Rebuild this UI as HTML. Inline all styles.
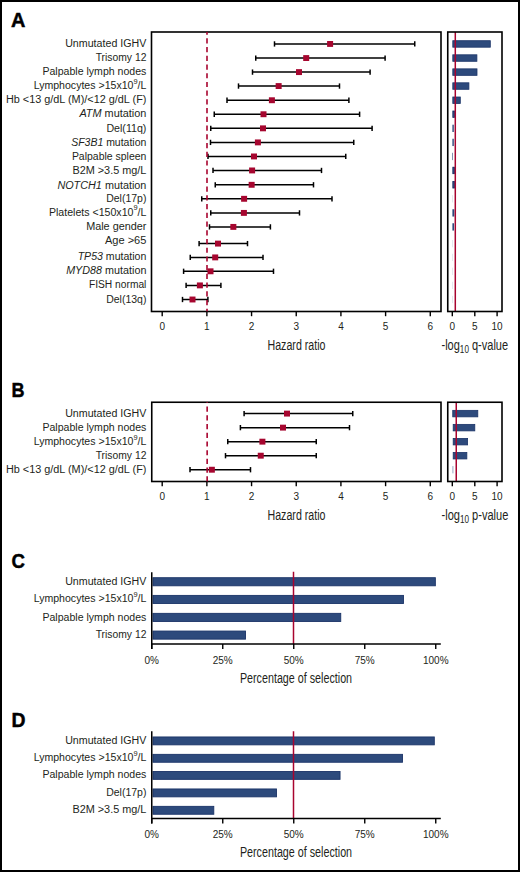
<!DOCTYPE html>
<html><head><meta charset="utf-8"><style>
html,body{margin:0;padding:0;background:#fff;}
svg{display:block;}
</style></head><body>
<svg width="520" height="872" viewBox="0 0 520 872" font-family="'Liberation Sans', sans-serif">
<rect x="0.00" y="0.00" width="520.00" height="872.00" fill="#fff" />
<rect x="1" y="1" width="518" height="870" fill="none" stroke="#000" stroke-width="2"/>
<text transform="translate(11.1,27.2) scale(1.03,1)" font-size="19.4" font-weight="bold" fill="#000" stroke="#000" stroke-width="0.45">A</text>
<text transform="translate(11.5,397.3) scale(0.93,1)" font-size="19.4" font-weight="bold" fill="#000" stroke="#000" stroke-width="0.45">B</text>
<text transform="translate(11.4,567.6) scale(0.96,1)" font-size="19.4" font-weight="bold" fill="#000" stroke="#000" stroke-width="0.45">C</text>
<text transform="translate(11.6,726.5) scale(1.0,1)" font-size="19.4" font-weight="bold" fill="#000" stroke="#000" stroke-width="0.45">D</text>
<text x="65.15" y="46.75" font-size="10.0" textLength="81.25" lengthAdjust="spacingAndGlyphs" fill="#231f20">Unmutated IGHV</text>
<text x="95.65" y="60.85" font-size="10.0" textLength="50.75" lengthAdjust="spacingAndGlyphs" fill="#231f20">Trisomy 12</text>
<text x="42.40" y="74.90" font-size="10.0" textLength="104.00" lengthAdjust="spacingAndGlyphs" fill="#231f20">Palpable lymph nodes</text>
<text x="33.65" y="88.85" font-size="10.0" textLength="112.75" lengthAdjust="spacingAndGlyphs" fill="#231f20">Lymphocytes &gt;15x10<tspan font-size="7.00" dy="-5.3">9</tspan><tspan dy="5.3">/L</tspan></text>
<text x="5.90" y="103.05" font-size="10.0" textLength="140.50" lengthAdjust="spacingAndGlyphs" fill="#231f20">Hb &lt;13 g/dL (M)/&lt;12 g/dL (F)</text>
<text x="79.40" y="117.05" font-size="10.0" textLength="67.00" lengthAdjust="spacingAndGlyphs" fill="#231f20"><tspan font-style="italic">ATM</tspan> mutation</text>
<text x="106.40" y="131.65" font-size="10.0" textLength="40.00" lengthAdjust="spacingAndGlyphs" fill="#231f20">Del(11q)</text>
<text x="71.15" y="145.70" font-size="10.0" textLength="75.25" lengthAdjust="spacingAndGlyphs" fill="#231f20"><tspan font-style="italic">SF3B1</tspan> mutation</text>
<text x="71.90" y="160.25" font-size="10.0" textLength="74.50" lengthAdjust="spacingAndGlyphs" fill="#231f20">Palpable spleen</text>
<text x="72.40" y="174.25" font-size="10.0" textLength="74.00" lengthAdjust="spacingAndGlyphs" fill="#231f20">B2M &gt;3.5 mg/L</text>
<text x="57.40" y="188.60" font-size="10.0" textLength="89.00" lengthAdjust="spacingAndGlyphs" fill="#231f20"><tspan font-style="italic">NOTCH1</tspan> mutation</text>
<text x="106.15" y="201.60" font-size="10.0" textLength="40.25" lengthAdjust="spacingAndGlyphs" fill="#231f20">Del(17p)</text>
<text x="48.90" y="215.70" font-size="10.0" textLength="97.50" lengthAdjust="spacingAndGlyphs" fill="#231f20">Platelets &lt;150x10<tspan font-size="7.00" dy="-5.3">9</tspan><tspan dy="5.3">/L</tspan></text>
<text x="86.15" y="229.70" font-size="10.0" textLength="60.25" lengthAdjust="spacingAndGlyphs" fill="#231f20">Male gender</text>
<text x="104.90" y="243.50" font-size="10.0" textLength="41.50" lengthAdjust="spacingAndGlyphs" fill="#231f20">Age &gt;65</text>
<text x="77.65" y="260.30" font-size="10.0" textLength="68.75" lengthAdjust="spacingAndGlyphs" fill="#231f20"><tspan font-style="italic">TP53</tspan> mutation</text>
<text x="66.15" y="274.30" font-size="10.0" textLength="80.25" lengthAdjust="spacingAndGlyphs" fill="#231f20"><tspan font-style="italic">MYD88</tspan> mutation</text>
<text x="88.90" y="288.40" font-size="10.0" textLength="57.50" lengthAdjust="spacingAndGlyphs" fill="#231f20">FISH normal</text>
<text x="106.15" y="302.50" font-size="10.0" textLength="40.25" lengthAdjust="spacingAndGlyphs" fill="#231f20">Del(13q)</text>
<line x1="274.50" y1="43.95" x2="414.75" y2="43.95" stroke="#000" stroke-width="1.5" />
<line x1="274.50" y1="41.30" x2="274.50" y2="46.60" stroke="#000" stroke-width="1.5" />
<line x1="414.75" y1="41.30" x2="414.75" y2="46.60" stroke="#000" stroke-width="1.5" />
<rect x="327.10" y="41.00" width="6.00" height="5.90" fill="#a6062f" />
<line x1="255.75" y1="58.05" x2="385.10" y2="58.05" stroke="#000" stroke-width="1.5" />
<line x1="255.75" y1="55.40" x2="255.75" y2="60.70" stroke="#000" stroke-width="1.5" />
<line x1="385.10" y1="55.40" x2="385.10" y2="60.70" stroke="#000" stroke-width="1.5" />
<rect x="303.20" y="55.10" width="6.00" height="5.90" fill="#a6062f" />
<line x1="252.50" y1="72.10" x2="370.10" y2="72.10" stroke="#000" stroke-width="1.5" />
<line x1="252.50" y1="69.45" x2="252.50" y2="74.75" stroke="#000" stroke-width="1.5" />
<line x1="370.10" y1="69.45" x2="370.10" y2="74.75" stroke="#000" stroke-width="1.5" />
<rect x="296.00" y="69.15" width="6.00" height="5.90" fill="#a6062f" />
<line x1="238.50" y1="86.05" x2="339.50" y2="86.05" stroke="#000" stroke-width="1.5" />
<line x1="238.50" y1="83.40" x2="238.50" y2="88.70" stroke="#000" stroke-width="1.5" />
<line x1="339.50" y1="83.40" x2="339.50" y2="88.70" stroke="#000" stroke-width="1.5" />
<rect x="275.65" y="83.10" width="6.00" height="5.90" fill="#a6062f" />
<line x1="227.00" y1="100.25" x2="348.90" y2="100.25" stroke="#000" stroke-width="1.5" />
<line x1="227.00" y1="97.60" x2="227.00" y2="102.90" stroke="#000" stroke-width="1.5" />
<line x1="348.90" y1="97.60" x2="348.90" y2="102.90" stroke="#000" stroke-width="1.5" />
<rect x="268.90" y="97.30" width="6.00" height="5.90" fill="#a6062f" />
<line x1="214.25" y1="114.25" x2="359.60" y2="114.25" stroke="#000" stroke-width="1.5" />
<line x1="214.25" y1="111.60" x2="214.25" y2="116.90" stroke="#000" stroke-width="1.5" />
<line x1="359.60" y1="111.60" x2="359.60" y2="116.90" stroke="#000" stroke-width="1.5" />
<rect x="260.50" y="111.30" width="6.00" height="5.90" fill="#a6062f" />
<line x1="210.75" y1="128.35" x2="372.10" y2="128.35" stroke="#000" stroke-width="1.5" />
<line x1="210.75" y1="125.70" x2="210.75" y2="131.00" stroke="#000" stroke-width="1.5" />
<line x1="372.10" y1="125.70" x2="372.10" y2="131.00" stroke="#000" stroke-width="1.5" />
<rect x="260.00" y="125.40" width="6.00" height="5.90" fill="#a6062f" />
<line x1="210.50" y1="142.40" x2="353.75" y2="142.40" stroke="#000" stroke-width="1.5" />
<line x1="210.50" y1="139.75" x2="210.50" y2="145.05" stroke="#000" stroke-width="1.5" />
<line x1="353.75" y1="139.75" x2="353.75" y2="145.05" stroke="#000" stroke-width="1.5" />
<rect x="254.90" y="139.45" width="6.00" height="5.90" fill="#a6062f" />
<line x1="208.00" y1="156.45" x2="345.75" y2="156.45" stroke="#000" stroke-width="1.5" />
<line x1="208.00" y1="153.80" x2="208.00" y2="159.10" stroke="#000" stroke-width="1.5" />
<line x1="345.75" y1="153.80" x2="345.75" y2="159.10" stroke="#000" stroke-width="1.5" />
<rect x="251.00" y="153.50" width="6.00" height="5.90" fill="#a6062f" />
<line x1="213.00" y1="170.45" x2="321.50" y2="170.45" stroke="#000" stroke-width="1.5" />
<line x1="213.00" y1="167.80" x2="213.00" y2="173.10" stroke="#000" stroke-width="1.5" />
<line x1="321.50" y1="167.80" x2="321.50" y2="173.10" stroke="#000" stroke-width="1.5" />
<rect x="249.10" y="167.50" width="6.00" height="5.90" fill="#a6062f" />
<line x1="215.25" y1="184.80" x2="313.50" y2="184.80" stroke="#000" stroke-width="1.5" />
<line x1="215.25" y1="182.15" x2="215.25" y2="187.45" stroke="#000" stroke-width="1.5" />
<line x1="313.50" y1="182.15" x2="313.50" y2="187.45" stroke="#000" stroke-width="1.5" />
<rect x="248.65" y="181.85" width="6.00" height="5.90" fill="#a6062f" />
<line x1="201.75" y1="198.80" x2="332.00" y2="198.80" stroke="#000" stroke-width="1.5" />
<line x1="201.75" y1="196.15" x2="201.75" y2="201.45" stroke="#000" stroke-width="1.5" />
<line x1="332.00" y1="196.15" x2="332.00" y2="201.45" stroke="#000" stroke-width="1.5" />
<rect x="241.10" y="195.85" width="6.00" height="5.90" fill="#a6062f" />
<line x1="210.75" y1="212.90" x2="299.50" y2="212.90" stroke="#000" stroke-width="1.5" />
<line x1="210.75" y1="210.25" x2="210.75" y2="215.55" stroke="#000" stroke-width="1.5" />
<line x1="299.50" y1="210.25" x2="299.50" y2="215.55" stroke="#000" stroke-width="1.5" />
<rect x="240.90" y="209.95" width="6.00" height="5.90" fill="#a6062f" />
<line x1="209.50" y1="226.90" x2="270.40" y2="226.90" stroke="#000" stroke-width="1.5" />
<line x1="209.50" y1="224.25" x2="209.50" y2="229.55" stroke="#000" stroke-width="1.5" />
<line x1="270.40" y1="224.25" x2="270.40" y2="229.55" stroke="#000" stroke-width="1.5" />
<rect x="230.35" y="223.95" width="6.00" height="5.90" fill="#a6062f" />
<line x1="199.10" y1="243.60" x2="247.50" y2="243.60" stroke="#000" stroke-width="1.5" />
<line x1="199.10" y1="240.95" x2="199.10" y2="246.25" stroke="#000" stroke-width="1.5" />
<line x1="247.50" y1="240.95" x2="247.50" y2="246.25" stroke="#000" stroke-width="1.5" />
<rect x="215.00" y="240.65" width="6.00" height="5.90" fill="#a6062f" />
<line x1="190.25" y1="257.40" x2="263.00" y2="257.40" stroke="#000" stroke-width="1.5" />
<line x1="190.25" y1="254.75" x2="190.25" y2="260.05" stroke="#000" stroke-width="1.5" />
<line x1="263.00" y1="254.75" x2="263.00" y2="260.05" stroke="#000" stroke-width="1.5" />
<rect x="212.20" y="254.45" width="6.00" height="5.90" fill="#a6062f" />
<line x1="183.60" y1="271.30" x2="273.50" y2="271.30" stroke="#000" stroke-width="1.5" />
<line x1="183.60" y1="268.65" x2="183.60" y2="273.95" stroke="#000" stroke-width="1.5" />
<line x1="273.50" y1="268.65" x2="273.50" y2="273.95" stroke="#000" stroke-width="1.5" />
<rect x="207.50" y="268.35" width="6.00" height="5.90" fill="#a6062f" />
<line x1="186.10" y1="285.40" x2="220.90" y2="285.40" stroke="#000" stroke-width="1.5" />
<line x1="186.10" y1="282.75" x2="186.10" y2="288.05" stroke="#000" stroke-width="1.5" />
<line x1="220.90" y1="282.75" x2="220.90" y2="288.05" stroke="#000" stroke-width="1.5" />
<rect x="196.90" y="282.45" width="6.00" height="5.90" fill="#a6062f" />
<line x1="182.50" y1="299.50" x2="207.90" y2="299.50" stroke="#000" stroke-width="1.5" />
<line x1="182.50" y1="296.85" x2="182.50" y2="302.15" stroke="#000" stroke-width="1.5" />
<line x1="207.90" y1="296.85" x2="207.90" y2="302.15" stroke="#000" stroke-width="1.5" />
<rect x="189.50" y="296.55" width="6.00" height="5.90" fill="#a6062f" />
<rect x="151.50" y="32.00" width="289.50" height="279.50" fill="none" stroke="#000" stroke-width="1.6"/>
<line x1="207.00" y1="32.00" x2="207.00" y2="311.50" stroke="#a8042f" stroke-width="1.6" stroke-dasharray="5.2 3.525" stroke-dashoffset="2.475"/>
<line x1="162.20" y1="311.50" x2="162.20" y2="316.20" stroke="#000" stroke-width="1.4" />
<text x="162.20" y="330.40" font-size="10" text-anchor="middle" fill="#231f20" font-weight="normal">0</text>
<line x1="206.88" y1="311.50" x2="206.88" y2="316.20" stroke="#000" stroke-width="1.4" />
<text x="206.88" y="330.40" font-size="10" text-anchor="middle" fill="#231f20" font-weight="normal">1</text>
<line x1="251.56" y1="311.50" x2="251.56" y2="316.20" stroke="#000" stroke-width="1.4" />
<text x="251.56" y="330.40" font-size="10" text-anchor="middle" fill="#231f20" font-weight="normal">2</text>
<line x1="296.24" y1="311.50" x2="296.24" y2="316.20" stroke="#000" stroke-width="1.4" />
<text x="296.24" y="330.40" font-size="10" text-anchor="middle" fill="#231f20" font-weight="normal">3</text>
<line x1="340.92" y1="311.50" x2="340.92" y2="316.20" stroke="#000" stroke-width="1.4" />
<text x="340.92" y="330.40" font-size="10" text-anchor="middle" fill="#231f20" font-weight="normal">4</text>
<line x1="385.60" y1="311.50" x2="385.60" y2="316.20" stroke="#000" stroke-width="1.4" />
<text x="385.60" y="330.40" font-size="10" text-anchor="middle" fill="#231f20" font-weight="normal">5</text>
<line x1="430.28" y1="311.50" x2="430.28" y2="316.20" stroke="#000" stroke-width="1.4" />
<text x="430.28" y="330.40" font-size="10" text-anchor="middle" fill="#231f20" font-weight="normal">6</text>
<rect x="452.80" y="40.70" width="37.50" height="6.50" fill="#2d4a7c" stroke="#1b3468" stroke-width="0.8"/>
<rect x="452.80" y="54.80" width="24.10" height="6.50" fill="#2d4a7c" stroke="#1b3468" stroke-width="0.8"/>
<rect x="452.80" y="68.85" width="24.20" height="6.50" fill="#2d4a7c" stroke="#1b3468" stroke-width="0.8"/>
<rect x="452.80" y="82.80" width="16.10" height="6.50" fill="#2d4a7c" stroke="#1b3468" stroke-width="0.8"/>
<rect x="452.80" y="97.00" width="7.50" height="6.50" fill="#2d4a7c" stroke="#1b3468" stroke-width="0.8"/>
<rect x="452.80" y="111.00" width="1.80" height="6.50" fill="#2d4a7c" stroke="#1b3468" stroke-width="0.8"/>
<rect x="452.40" y="124.70" width="1.40" height="7.30" fill="#2d4a7c" />
<rect x="452.40" y="138.75" width="1.40" height="7.30" fill="#2d4a7c" />
<rect x="452.40" y="152.80" width="0.60" height="7.30" fill="#2d4a7c" />
<rect x="452.80" y="167.20" width="1.80" height="6.50" fill="#2d4a7c" stroke="#1b3468" stroke-width="0.8"/>
<rect x="452.80" y="181.55" width="1.80" height="6.50" fill="#2d4a7c" stroke="#1b3468" stroke-width="0.8"/>
<rect x="452.20" y="195.15" width="0.50" height="7.30" fill="#c9d1df" />
<rect x="452.40" y="209.25" width="1.90" height="7.30" fill="#2d4a7c" />
<rect x="452.40" y="223.25" width="1.60" height="7.30" fill="#2d4a7c" />
<rect x="452.20" y="239.95" width="0.50" height="7.30" fill="#c9d1df" />
<rect x="452.20" y="253.75" width="0.50" height="7.30" fill="#c9d1df" />
<rect x="452.20" y="267.65" width="0.50" height="7.30" fill="#c9d1df" />
<rect x="452.20" y="281.75" width="0.50" height="7.30" fill="#c9d1df" />
<rect x="452.20" y="295.85" width="0.50" height="7.30" fill="#c9d1df" />
<line x1="455.30" y1="32.00" x2="455.30" y2="311.50" stroke="#a8042f" stroke-width="1.5" />
<rect x="447.75" y="32.00" width="54.25" height="279.50" fill="none" stroke="#000" stroke-width="1.6"/>
<line x1="452.30" y1="311.50" x2="452.30" y2="316.20" stroke="#000" stroke-width="1.4" />
<text x="452.30" y="330.10" font-size="10" text-anchor="middle" fill="#231f20" font-weight="normal">0</text>
<line x1="474.80" y1="311.50" x2="474.80" y2="316.20" stroke="#000" stroke-width="1.4" />
<text x="474.80" y="330.10" font-size="10" text-anchor="middle" fill="#231f20" font-weight="normal">5</text>
<line x1="497.10" y1="311.50" x2="497.10" y2="316.20" stroke="#000" stroke-width="1.4" />
<text x="497.10" y="330.10" font-size="10" text-anchor="middle" fill="#231f20" font-weight="normal">10</text>
<text x="267.5" y="349.5" font-size="13.8" textLength="58" lengthAdjust="spacingAndGlyphs" fill="#231f20">Hazard ratio</text>
<text x="441.5" y="349.7" font-size="13.8" fill="#231f20" textLength="66.6" lengthAdjust="spacingAndGlyphs">-log<tspan font-size="10.2" dy="3.4">10</tspan><tspan dy="-3.4"> q-value</tspan></text>
<text x="65.15" y="416.75" font-size="10.0" textLength="81.25" lengthAdjust="spacingAndGlyphs" fill="#231f20">Unmutated IGHV</text>
<text x="42.40" y="430.78" font-size="10.0" textLength="104.00" lengthAdjust="spacingAndGlyphs" fill="#231f20">Palpable lymph nodes</text>
<text x="33.65" y="444.81" font-size="10.0" textLength="112.75" lengthAdjust="spacingAndGlyphs" fill="#231f20">Lymphocytes &gt;15x10<tspan font-size="7.00" dy="-5.3">9</tspan><tspan dy="5.3">/L</tspan></text>
<text x="95.65" y="458.84" font-size="10.0" textLength="50.75" lengthAdjust="spacingAndGlyphs" fill="#231f20">Trisomy 12</text>
<text x="5.90" y="472.87" font-size="10.0" textLength="140.50" lengthAdjust="spacingAndGlyphs" fill="#231f20">Hb &lt;13 g/dL (M)/&lt;12 g/dL (F)</text>
<line x1="244.10" y1="413.60" x2="352.75" y2="413.60" stroke="#000" stroke-width="1.5" />
<line x1="244.10" y1="410.95" x2="244.10" y2="416.25" stroke="#000" stroke-width="1.5" />
<line x1="352.75" y1="410.95" x2="352.75" y2="416.25" stroke="#000" stroke-width="1.5" />
<rect x="284.00" y="410.65" width="6.00" height="5.90" fill="#a6062f" />
<line x1="240.40" y1="427.63" x2="349.50" y2="427.63" stroke="#000" stroke-width="1.5" />
<line x1="240.40" y1="424.98" x2="240.40" y2="430.28" stroke="#000" stroke-width="1.5" />
<line x1="349.50" y1="424.98" x2="349.50" y2="430.28" stroke="#000" stroke-width="1.5" />
<rect x="280.00" y="424.68" width="6.00" height="5.90" fill="#a6062f" />
<line x1="227.75" y1="441.66" x2="316.25" y2="441.66" stroke="#000" stroke-width="1.5" />
<line x1="227.75" y1="439.01" x2="227.75" y2="444.31" stroke="#000" stroke-width="1.5" />
<line x1="316.25" y1="439.01" x2="316.25" y2="444.31" stroke="#000" stroke-width="1.5" />
<rect x="259.40" y="438.71" width="6.00" height="5.90" fill="#a6062f" />
<line x1="225.50" y1="455.69" x2="316.25" y2="455.69" stroke="#000" stroke-width="1.5" />
<line x1="225.50" y1="453.04" x2="225.50" y2="458.34" stroke="#000" stroke-width="1.5" />
<line x1="316.25" y1="453.04" x2="316.25" y2="458.34" stroke="#000" stroke-width="1.5" />
<rect x="257.75" y="452.74" width="6.00" height="5.90" fill="#a6062f" />
<line x1="190.00" y1="469.72" x2="250.50" y2="469.72" stroke="#000" stroke-width="1.5" />
<line x1="190.00" y1="467.07" x2="190.00" y2="472.37" stroke="#000" stroke-width="1.5" />
<line x1="250.50" y1="467.07" x2="250.50" y2="472.37" stroke="#000" stroke-width="1.5" />
<rect x="208.85" y="466.77" width="6.00" height="5.90" fill="#a6062f" />
<rect x="151.75" y="402.25" width="289.25" height="79.25" fill="none" stroke="#000" stroke-width="1.6"/>
<line x1="207.15" y1="402.25" x2="207.15" y2="481.50" stroke="#a8042f" stroke-width="1.6" stroke-dasharray="5.2 3.525" stroke-dashoffset="4.475"/>
<line x1="162.20" y1="481.50" x2="162.20" y2="486.20" stroke="#000" stroke-width="1.4" />
<text x="162.20" y="500.40" font-size="10" text-anchor="middle" fill="#231f20" font-weight="normal">0</text>
<line x1="206.88" y1="481.50" x2="206.88" y2="486.20" stroke="#000" stroke-width="1.4" />
<text x="206.88" y="500.40" font-size="10" text-anchor="middle" fill="#231f20" font-weight="normal">1</text>
<line x1="251.56" y1="481.50" x2="251.56" y2="486.20" stroke="#000" stroke-width="1.4" />
<text x="251.56" y="500.40" font-size="10" text-anchor="middle" fill="#231f20" font-weight="normal">2</text>
<line x1="296.24" y1="481.50" x2="296.24" y2="486.20" stroke="#000" stroke-width="1.4" />
<text x="296.24" y="500.40" font-size="10" text-anchor="middle" fill="#231f20" font-weight="normal">3</text>
<line x1="340.92" y1="481.50" x2="340.92" y2="486.20" stroke="#000" stroke-width="1.4" />
<text x="340.92" y="500.40" font-size="10" text-anchor="middle" fill="#231f20" font-weight="normal">4</text>
<line x1="385.60" y1="481.50" x2="385.60" y2="486.20" stroke="#000" stroke-width="1.4" />
<text x="385.60" y="500.40" font-size="10" text-anchor="middle" fill="#231f20" font-weight="normal">5</text>
<line x1="430.28" y1="481.50" x2="430.28" y2="486.20" stroke="#000" stroke-width="1.4" />
<text x="430.28" y="500.40" font-size="10" text-anchor="middle" fill="#231f20" font-weight="normal">6</text>
<rect x="452.75" y="410.35" width="25.05" height="6.50" fill="#2d4a7c" stroke="#1b3468" stroke-width="0.8"/>
<rect x="453.20" y="424.38" width="21.60" height="6.50" fill="#2d4a7c" stroke="#1b3468" stroke-width="0.8"/>
<rect x="453.20" y="438.41" width="14.40" height="6.50" fill="#2d4a7c" stroke="#1b3468" stroke-width="0.8"/>
<rect x="453.20" y="452.44" width="13.65" height="6.50" fill="#2d4a7c" stroke="#1b3468" stroke-width="0.8"/>
<rect x="452.10" y="466.07" width="1.50" height="7.30" fill="#bcc6da" />
<line x1="456.25" y1="402.25" x2="456.25" y2="481.50" stroke="#a8042f" stroke-width="1.5" />
<rect x="447.75" y="402.25" width="54.25" height="79.25" fill="none" stroke="#000" stroke-width="1.6"/>
<line x1="452.30" y1="481.50" x2="452.30" y2="486.20" stroke="#000" stroke-width="1.4" />
<text x="452.30" y="500.10" font-size="10" text-anchor="middle" fill="#231f20" font-weight="normal">0</text>
<line x1="474.80" y1="481.50" x2="474.80" y2="486.20" stroke="#000" stroke-width="1.4" />
<text x="474.80" y="500.10" font-size="10" text-anchor="middle" fill="#231f20" font-weight="normal">5</text>
<line x1="497.10" y1="481.50" x2="497.10" y2="486.20" stroke="#000" stroke-width="1.4" />
<text x="497.10" y="500.10" font-size="10" text-anchor="middle" fill="#231f20" font-weight="normal">10</text>
<text x="267.5" y="519.5" font-size="13.8" textLength="58" lengthAdjust="spacingAndGlyphs" fill="#231f20">Hazard ratio</text>
<text x="441.5" y="519.7" font-size="13.8" fill="#231f20" textLength="66.8" lengthAdjust="spacingAndGlyphs">-log<tspan font-size="10.2" dy="3.4">10</tspan><tspan dy="-3.4"> p-value</tspan></text>
<rect x="152.95" y="577.70" width="282.40" height="8.10" fill="#2d4a7c" stroke="#1b3468" stroke-width="0.9"/>
<rect x="152.95" y="595.40" width="250.50" height="8.10" fill="#2d4a7c" stroke="#1b3468" stroke-width="0.9"/>
<rect x="152.95" y="613.35" width="187.80" height="8.10" fill="#2d4a7c" stroke="#1b3468" stroke-width="0.9"/>
<rect x="152.95" y="631.05" width="92.60" height="8.10" fill="#2d4a7c" stroke="#1b3468" stroke-width="0.9"/>
<line x1="293.50" y1="571.75" x2="293.50" y2="644.00" stroke="#a8042f" stroke-width="1.5" />
<line x1="151.75" y1="572.20" x2="151.75" y2="649.00" stroke="#000" stroke-width="1.5" />
<line x1="151.00" y1="644.00" x2="440.80" y2="644.00" stroke="#000" stroke-width="1.5" />
<line x1="151.75" y1="644.00" x2="151.75" y2="649.00" stroke="#000" stroke-width="1.4" />
<text x="151.75" y="663.50" font-size="10" text-anchor="middle" fill="#231f20" font-weight="normal">0%</text>
<line x1="222.75" y1="644.00" x2="222.75" y2="649.00" stroke="#000" stroke-width="1.4" />
<text x="222.75" y="663.50" font-size="10" text-anchor="middle" fill="#231f20" font-weight="normal">25%</text>
<line x1="293.75" y1="644.00" x2="293.75" y2="649.00" stroke="#000" stroke-width="1.4" />
<text x="293.75" y="663.50" font-size="10" text-anchor="middle" fill="#231f20" font-weight="normal">50%</text>
<line x1="364.75" y1="644.00" x2="364.75" y2="649.00" stroke="#000" stroke-width="1.4" />
<text x="364.75" y="663.50" font-size="10" text-anchor="middle" fill="#231f20" font-weight="normal">75%</text>
<line x1="435.75" y1="644.00" x2="435.75" y2="649.00" stroke="#000" stroke-width="1.4" />
<text x="435.75" y="663.50" font-size="10" text-anchor="middle" fill="#231f20" font-weight="normal">100%</text>
<text x="239.9" y="682.9" font-size="13.8" textLength="112.2" lengthAdjust="spacingAndGlyphs" fill="#231f20">Percentage of selection</text>
<text x="65.15" y="584.55" font-size="10.0" textLength="81.25" lengthAdjust="spacingAndGlyphs" fill="#231f20">Unmutated IGHV</text>
<text x="33.65" y="602.25" font-size="10.0" textLength="112.75" lengthAdjust="spacingAndGlyphs" fill="#231f20">Lymphocytes &gt;15x10<tspan font-size="7.00" dy="-5.3">9</tspan><tspan dy="5.3">/L</tspan></text>
<text x="42.40" y="621.00" font-size="10.0" textLength="104.00" lengthAdjust="spacingAndGlyphs" fill="#231f20">Palpable lymph nodes</text>
<text x="95.65" y="638.40" font-size="10.0" textLength="50.75" lengthAdjust="spacingAndGlyphs" fill="#231f20">Trisomy 12</text>
<rect x="152.95" y="736.95" width="281.35" height="7.90" fill="#2d4a7c" stroke="#1b3468" stroke-width="0.9"/>
<rect x="152.95" y="754.35" width="249.60" height="7.90" fill="#2d4a7c" stroke="#1b3468" stroke-width="0.9"/>
<rect x="152.95" y="771.45" width="187.10" height="7.90" fill="#2d4a7c" stroke="#1b3468" stroke-width="0.9"/>
<rect x="152.95" y="788.95" width="123.60" height="7.90" fill="#2d4a7c" stroke="#1b3468" stroke-width="0.9"/>
<rect x="152.95" y="806.35" width="60.85" height="7.90" fill="#2d4a7c" stroke="#1b3468" stroke-width="0.9"/>
<line x1="293.50" y1="731.25" x2="293.50" y2="818.50" stroke="#a8042f" stroke-width="1.5" />
<line x1="151.75" y1="731.20" x2="151.75" y2="823.50" stroke="#000" stroke-width="1.5" />
<line x1="151.00" y1="818.50" x2="440.80" y2="818.50" stroke="#000" stroke-width="1.5" />
<line x1="151.75" y1="818.50" x2="151.75" y2="823.50" stroke="#000" stroke-width="1.4" />
<text x="151.75" y="838.00" font-size="10" text-anchor="middle" fill="#231f20" font-weight="normal">0%</text>
<line x1="222.75" y1="818.50" x2="222.75" y2="823.50" stroke="#000" stroke-width="1.4" />
<text x="222.75" y="838.00" font-size="10" text-anchor="middle" fill="#231f20" font-weight="normal">25%</text>
<line x1="293.75" y1="818.50" x2="293.75" y2="823.50" stroke="#000" stroke-width="1.4" />
<text x="293.75" y="838.00" font-size="10" text-anchor="middle" fill="#231f20" font-weight="normal">50%</text>
<line x1="364.75" y1="818.50" x2="364.75" y2="823.50" stroke="#000" stroke-width="1.4" />
<text x="364.75" y="838.00" font-size="10" text-anchor="middle" fill="#231f20" font-weight="normal">75%</text>
<line x1="435.75" y1="818.50" x2="435.75" y2="823.50" stroke="#000" stroke-width="1.4" />
<text x="435.75" y="838.00" font-size="10" text-anchor="middle" fill="#231f20" font-weight="normal">100%</text>
<text x="239.9" y="857.0" font-size="13.8" textLength="112.2" lengthAdjust="spacingAndGlyphs" fill="#231f20">Percentage of selection</text>
<text x="65.15" y="743.70" font-size="10.0" textLength="81.25" lengthAdjust="spacingAndGlyphs" fill="#231f20">Unmutated IGHV</text>
<text x="33.65" y="761.10" font-size="10.0" textLength="112.75" lengthAdjust="spacingAndGlyphs" fill="#231f20">Lymphocytes &gt;15x10<tspan font-size="7.00" dy="-5.3">9</tspan><tspan dy="5.3">/L</tspan></text>
<text x="42.40" y="778.20" font-size="10.0" textLength="104.00" lengthAdjust="spacingAndGlyphs" fill="#231f20">Palpable lymph nodes</text>
<text x="106.15" y="795.70" font-size="10.0" textLength="40.25" lengthAdjust="spacingAndGlyphs" fill="#231f20">Del(17p)</text>
<text x="72.40" y="813.10" font-size="10.0" textLength="74.00" lengthAdjust="spacingAndGlyphs" fill="#231f20">B2M &gt;3.5 mg/L</text>
</svg>
</body></html>
